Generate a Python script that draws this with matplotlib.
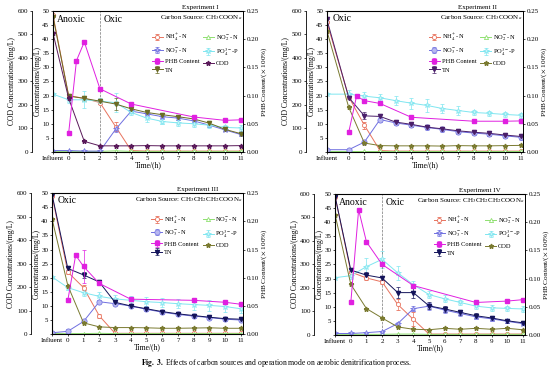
import numpy as np
import matplotlib
matplotlib.use("Agg")
import matplotlib.pyplot as plt

plt.rcParams['font.family'] = ['Liberation Serif', 'DejaVu Serif']
plt.rcParams['mathtext.fontset'] = 'stix'
plt.rcParams['font.size'] = 5

hours = [0, 1, 2, 3, 4, 5, 6, 7, 8, 9, 10, 11]
phb_t = [0, 0.5, 1, 2, 4, 8, 10, 11]

titles = ['Experiment I', 'Experiment II', 'Experiment III', 'Experiment IV']
sources = [r'Carbon Source: CH$_3$COON$_a$', r'Carbon Source: CH$_3$COON$_a$',
           r'Carbon Source: CH$_3$CH$_2$CH$_2$COON$_a$', r'Carbon Source: CH$_3$CH$_2$CH$_2$COON$_a$']
influent_x = [-1, -1.4, -1, -1]
anoxic = [True, False, False, True]

# first value in each series = influent
nh4 = [
    [48.5, 20, 19, 17.5, 9, 0.5, 0.3, 0.3, 0.3, 0.3, 0.3, 0.3, 0.3],
    [46, 19.5, 9.5, 0.5, 0.3, 0.3, 0.3, 0.3, 0.3, 0.3, 0.3, 0.3, 0.3],
    [49, 22, 16.5, 6.5, 0.3, 0.3, 0.3, 0.3, 0.3, 0.3, 0.3, 0.3, 0.3],
    [49, 22.3, 20.2, 18.8, 10.8, 5.5, 0.3, 0.3, 0.3, 0.3, 0.3, 0.3, 0.3],
]
nh4_err = [
    [0, 0.5, 0.5, 0.5, 1.5, 0.3, 0, 0, 0, 0, 0, 0, 0],
    [0, 0.5, 1.2, 0.3, 0, 0, 0, 0, 0, 0, 0, 0, 0],
    [0, 0.5, 1.0, 0.8, 0, 0, 0, 0, 0, 0, 0, 0, 0],
    [0, 0.5, 0.8, 0.8, 1.8, 2.5, 0, 0, 0, 0, 0, 0, 0],
]
no2 = [
    [0.2, 0.2, 0.2, 0.2, 0.4, 0.2, 0.2, 0.2, 0.2, 0.2, 0.2, 0.2, 0.2],
    [0.2, 0.2, 0.2, 0.2, 0.2, 0.2, 0.2, 0.2, 0.2, 0.2, 0.2, 0.2, 0.2],
    [0.2, 0.2, 0.2, 0.3, 0.2, 0.2, 0.2, 0.2, 0.2, 0.2, 0.2, 0.2, 0.2],
    [0.2, 0.2, 0.2, 0.2, 0.3, 0.3, 0.2, 0.2, 0.2, 0.2, 0.2, 0.2, 0.2],
]
no3 = [
    [0.5, 0.5, 0.3, 0.3, 8, 14.5, 13.5, 12.5, 12, 11, 9.5, 7.8, 6.2],
    [0.8, 0.8, 3.5, 11.5, 10.3, 9.5, 8.7, 8, 7.2, 6.7, 6.3, 5.7, 5.2],
    [0.5, 1.0, 4.5, 11.5, 10.8, 10, 8.8, 7.8, 7, 6.4, 5.9, 5.3, 5],
    [0.5, 0.5, 0.8, 1.2, 4, 9.3, 10.2, 8.8, 7.6, 6.4, 5.7, 4.8, 4],
]
no3_err = [
    [0, 0, 0, 0, 0.8, 0.5, 0.5, 0.5, 0.5, 0.5, 0.5, 0.5, 0.5],
    [0, 0.3, 0.5, 0.8, 0.8, 0.8, 0.8, 0.8, 0.8, 0.8, 0.8, 0.8, 0.8],
    [0, 1.0, 0.5, 0.5, 0.5, 0.5, 0.5, 0.5, 0.5, 0.5, 0.5, 0.5, 0.5],
    [0, 0, 0, 0, 0.5, 0.8, 1.2, 1.0, 1.0, 0.8, 0.8, 0.6, 0.6],
]
po4 = [
    [20.5, 18.5, 18.5, 18, 17.5, 14, 12, 10.8, 10.3, 10, 9.5, 8.7, 8.5],
    [20.5, 20.5, 19.8, 19.2, 18.2, 17.3, 16.5, 15.4, 14.7, 14, 13.7, 13.3, 13],
    [20.3, 16.5, 14.7, 13.4, 12.5, 12, 11.5, 11.2, 10.8, 10.5, 10.2, 9.8, 9],
    [20.3, 21, 24.2, 26.8, 22, 17.8, 14.3, 12.8, 11.5, 10.2, 9.6, 9.4, 9.2],
]
po4_err = [
    [0, 1.0, 3.0, 1.0, 3.5, 1.0, 1.5, 1.0, 1.0, 1.0, 1.0, 1.0, 1.0],
    [0, 1.5, 1.5, 1.2, 1.5, 2.0, 2.2, 1.5, 1.5, 1.0, 1.0, 1.0, 0.8],
    [0, 1.0, 1.0, 1.5, 1.5, 1.5, 1.5, 1.5, 1.5, 1.8, 2.0, 1.8, 1.5],
    [0, 1.0, 3.0, 3.0, 2.5, 1.2, 1.2, 1.2, 1.0, 1.0, 1.0, 1.0, 1.0],
]
tn = [
    [48, 19.8, 19, 18, 17, 15.3, 14, 13.2, 12.5, 11.7, 10.2, 8, 6.5],
    [47, 19.3, 12.8, 12.6, 10.6, 9.8, 8.8, 8.2, 7.5, 7, 6.6, 6, 5.5],
    [49.5, 23.3, 21, 18.5, 11.3, 10, 9, 8, 7.2, 6.6, 6, 5.5, 5.3],
    [49, 23, 21.2, 20.2, 15, 15, 10.3, 9.2, 8, 6.8, 6, 5, 4.3],
]
tn_err = [
    [0, 0.5, 1.0, 0.8, 2.0, 0.5, 0.5, 0.5, 0.5, 0.5, 0.5, 0.5, 0.5],
    [0, 0.5, 1.2, 1.0, 0.8, 0.8, 0.8, 0.8, 0.8, 0.8, 0.8, 0.8, 0.8],
    [0, 0.5, 1.0, 0.8, 0.8, 0.5, 0.5, 0.5, 0.5, 0.5, 0.5, 0.5, 0.5],
    [0, 0.5, 1.0, 0.8, 2.0, 2.0, 1.2, 1.2, 1.0, 0.8, 0.8, 0.6, 0.6],
]
cod = [
    [505, 228, 45, 26, 26, 26, 27, 26, 26, 26, 26, 26, 27],
    [516, 190, 38, 27, 26, 26, 26, 25, 27, 26, 26, 27, 28],
    [490, 207, 48, 31, 28, 28, 27, 25, 25, 26, 27, 25, 25],
    [510, 215, 112, 72, 34, 24, 22, 28, 24, 28, 24, 28, 22],
]
phb = [
    [0.0335, 0.162, 0.195, 0.112, 0.085, 0.062, 0.056, 0.057],
    [0.035, 0.099, 0.091, 0.086, 0.0615, 0.0545, 0.0545, 0.055],
    [0.06, 0.14, 0.12, 0.09, 0.062, 0.06, 0.0565, 0.053],
    [0.0575, 0.222, 0.165, 0.125, 0.0875, 0.0575, 0.06, 0.0625],
]
phb_err = [
    [0, 0, 0, 0, 0, 0, 0, 0],
    [0, 0, 0, 0, 0, 0, 0, 0],
    [0, 0, 0.03, 0, 0, 0, 0, 0],
    [0, 0, 0, 0, 0, 0, 0, 0],
]

cod_color = ['#5a1a5a', '#7a7a30', '#7a7a30', '#7a7a30']
tn_color = ['#6b6b25', '#4a1f6a', '#14145a', '#14145a']
no3_marker = ['*', 'o', 'o', '*']

positions = [
    [0.0957, 0.598, 0.343, 0.373],
    [0.590, 0.598, 0.354, 0.373],
    [0.094, 0.116, 0.345, 0.373],
    [0.605, 0.114, 0.343, 0.373],
]

fig = plt.figure(figsize=(5.54, 3.78), dpi=100)

for i in range(4):
    ax = fig.add_axes(positions[i])
    x0 = influent_x[i]
    x = [x0] + hours
    ms = 3.0
    lw = 0.7
    ek = dict(elinewidth=0.5, capsize=1.2, capthick=0.5)

    h_nh4 = ax.errorbar(x, nh4[i], yerr=nh4_err[i], color='#e8735e', marker='o', ms=ms,
                        mfc='white', mew=0.6, lw=lw, **ek)
    h_no2 = ax.errorbar(x, no2[i], color='#8fe070', marker='^', ms=ms, mfc='white',
                        mew=0.6, lw=lw)
    h_no3 = ax.errorbar(x, no3[i], yerr=no3_err[i], color='#6f6fe0', marker=no3_marker[i],
                        ms=ms + 0.8, mfc='#b8b8f0', mew=0.5, lw=lw, **ek)
    h_po4 = ax.errorbar(x, po4[i], yerr=po4_err[i], color='#7fe6f0', marker='*', ms=ms + 1,
                        mfc='#c8f4f8', mew=0.5, lw=lw, **ek)
    h_tn = ax.errorbar(x, tn[i], yerr=tn_err[i], color=tn_color[i], marker='v', ms=ms,
                       lw=lw, **ek)

    ax.set_xlim(x0, 11.15)
    ax.set_ylim(0, 50)
    ax.set_yticks(np.arange(0, 51, 5))
    ax.set_yticklabels([''] + [str(v) for v in range(5, 51, 5)])
    ax.set_xticks([x0] + hours)
    ax.set_xticklabels(['Influent'] + [str(h) for h in hours])
    ax.tick_params(length=1.5, width=0.5, pad=1.2, labelsize=5)
    for s in ax.spines.values():
        s.set_linewidth(0.6)
    ax.set_ylabel('Concentrations/(mg/L)', fontsize=5.5, labelpad=0.5)
    ax.set_xlabel('Time/(h)', fontsize=5.5, labelpad=0.5)

    # COD axis on the left, offset outward
    ax_cod = ax.twinx()
    ax_cod.yaxis.tick_left()
    ax_cod.yaxis.set_label_position('left')
    ax_cod.spines['left'].set_visible(True)
    ax_cod.spines['left'].set_position(('outward', 15))
    ax_cod.spines['right'].set_visible(False)
    ax_cod.spines['top'].set_visible(False)
    ax_cod.spines['bottom'].set_visible(False)
    ax_cod.spines['left'].set_linewidth(0.6)
    ax_cod.set_ylim(0, 600)
    ax_cod.set_yticks(np.arange(0, 601, 100))
    ax_cod.tick_params(length=1.5, width=0.5, pad=1.2, labelsize=5)
    h_cod = ax_cod.errorbar(x, cod[i], color=cod_color[i], marker='*', ms=ms + 0.5,
                            lw=lw)
    ax_cod.set_ylabel('COD Concentrations/(mg/L)', fontsize=5.5, labelpad=1)

    # PHB axis on the right
    ax_phb = ax.twinx()
    ax_phb.set_ylim(0, 0.25)
    ax_phb.set_yticks(np.arange(0, 0.251, 0.05))
    ax_phb.set_yticklabels(['%.2f' % v for v in np.arange(0, 0.251, 0.05)])
    ax_phb.tick_params(length=1.5, width=0.5, pad=1.0, labelsize=5)
    ax_phb.spines['right'].set_linewidth(0.6)
    h_phb = ax_phb.errorbar(phb_t, phb[i], yerr=phb_err[i], color='#e020e0', marker='s',
                            ms=ms - 0.4, lw=lw, **ek)
    ax_phb.set_ylabel(r'PHB Content/($\times$ 100%)', fontsize=5.2, labelpad=0.5)

    if anoxic[i]:
        ax.axvline(2, color='#777777', ls='--', lw=0.5)
        ax.text(x0 + 0.25, 48.5, 'Anoxic', fontsize=7, va='top')
        ax.text(2.25, 48.5, 'Oxic', fontsize=7, va='top')
    else:
        ax.text(x0 + 0.35, 49, 'Oxic', fontsize=7, va='top')

    ax.text(0.87, 1.005, titles[i], transform=ax.transAxes, ha='right', va='bottom',
            fontsize=5)
    ax.text(0.995, 0.985, sources[i], transform=ax.transAxes, ha='right', va='top',
            fontsize=5)

    handles = [h_nh4, h_no3, h_phb, h_tn, h_no2, h_po4, h_cod]
    labels = [r'NH$_4^+$-N', r'NO$_3^-$-N', 'PHB Content', 'TN',
              r'NO$_2^-$-N', r'PO$_4^{3-}$-P', 'COD']
    ax_phb.legend(handles, labels, ncol=2, fontsize=4.6, frameon=False,
                  loc='upper left', bbox_to_anchor=(0.52, 0.85), handlelength=1.7,
                  handletextpad=0.3, columnspacing=0.6, labelspacing=0.45,
                  borderaxespad=0, borderpad=0)

fig.text(0.5, 0.04, r'$\bf{Fig.\ 3.}$ Effects of carbon sources and operation mode on aerobic denitrification process.',
         ha='center', va='center', fontsize=5.5)

fig.savefig('out.png', dpi=100)
